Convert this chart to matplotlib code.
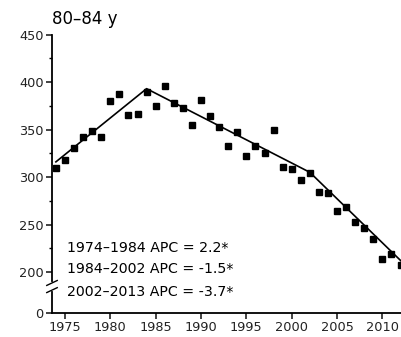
import matplotlib
matplotlib.use("Agg")
import matplotlib.pyplot as plt
from matplotlib.ticker import FixedLocator
import numpy as np

plt.rcParams['font.family'] = ['DejaVu Sans']

# observed rates
years = [1974, 1975, 1976, 1977, 1978, 1979, 1980, 1981, 1982, 1983,
         1984, 1985, 1986, 1987, 1988, 1989, 1990, 1991, 1992, 1993,
         1994, 1995, 1996, 1997, 1998, 1999, 2000, 2001, 2002, 2003,
         2004, 2005, 2006, 2007, 2008, 2009, 2010, 2011, 2012]
rates = [310, 318, 331, 342, 349, 342, 380, 387, 365, 366,
         390, 375, 396, 378, 373, 355, 381, 364, 353, 333,
         347, 322, 333, 325, 350, 311, 309, 297, 304, 284,
         283, 264, 269, 253, 246, 235, 214, 219, 207]

# joinpoint fit
fit_years = [1974, 1984, 2002, 2013]
fit_rates = [316, 393, 305, 203]

labels = ["1974\u20131984 APC = 2.2*",
          "1984\u20132002 APC = -1.5*",
          "2002\u20132013 APC = -3.7*"]

# broken y axis: 0..200 squeezed
def fwd(y):
    y = np.asarray(y, dtype=float)
    return np.where(y >= 200, y, 157 + y * 43 / 200)

def inv(u):
    u = np.asarray(u, dtype=float)
    return np.where(u >= 200, u, (u - 157) * 200 / 43)

fig = plt.figure(figsize=(4.01, 3.37), dpi=100)
ax = fig.add_axes([52 / 401, 24 / 337, 349 / 401, 278.5 / 337])

ax.plot(fit_years, fit_rates, color='black', lw=1.2, zorder=2)
ax.plot(years, rates, 's', color='black', ms=3.8, zorder=3)

ax.set_yscale('function', functions=(fwd, inv))
ax.set_ylim(0, 450)
ax.set_xlim(1973.57, 2012.05)

ax.yaxis.set_major_locator(FixedLocator([0, 200, 250, 300, 350, 400, 450]))
ax.yaxis.set_minor_locator(FixedLocator([225, 275, 325, 375, 425]))
ax.xaxis.set_major_locator(FixedLocator([1975, 1980, 1985, 1990, 1995, 2000, 2005, 2010]))
ax.xaxis.set_minor_locator(FixedLocator([]))

for s in ['top', 'right']:
    ax.spines[s].set_visible(False)
for s in ['left', 'bottom']:
    ax.spines[s].set_linewidth(1.3)

ax.tick_params(which='major', direction='out', length=4, width=1.2,
               labelsize=9.3, colors='#222222', pad=2)
ax.tick_params(which='minor', direction='out', length=2.5, width=1.0)

# break marks on the y axis
tr = ax.get_yaxis_transform()
ax.plot([0, 0], [118, 142], transform=tr, color='white', lw=3, clip_on=False, zorder=5)
for yb in [112, 147]:
    ax.plot([-0.015, 0.015], [yb - 12, yb + 12], transform=tr, color='black',
            lw=1.0, clip_on=False, zorder=6)

ax.text(0.0, 1.055, "80\u201384 y", transform=ax.transAxes, fontsize=12,
        va='center', ha='left')

for i, lab in enumerate(labels):
    fig.text(67 / 401, 1 - [248, 269, 292][i] / 337, lab, fontsize=10.2,
             va='center', ha='left')

fig.savefig("out.png", dpi=100)
